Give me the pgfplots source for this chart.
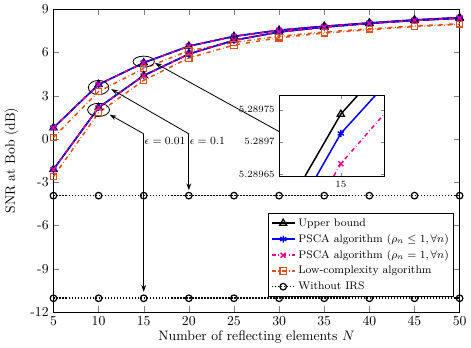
\documentclass[border=0pt]{standalone}
\usepackage{pgfplots}
\pgfplotsset{compat=1.18}
\usetikzlibrary{arrows.meta}

\definecolor{lcorange}{rgb}{0.85,0.325,0.098}

% eps = 0.1
\pgfplotstableread{
N   ub        psca1     psca2     lc
5   0.78      0.78      0.78      0.11
10  3.78      3.78      3.78      3.29
15  5.289743  5.289711  5.289664  4.89
20  6.44      6.44      6.44      6.12
25  7.12      7.12      7.12      6.70
30  7.55      7.55      7.55      7.13
35  7.82      7.82      7.82      7.42
40  8.05      8.05      8.05      7.64
45  8.26      8.26      8.26      7.84
50  8.42      8.42      8.42      8.00
}\epsa

% eps = 0.01
\pgfplotstableread{
N   ub      psca1   psca2   lc
5   -2.11   -2.11   -2.11   -2.60
10  2.18    2.18    2.18    1.82
15  4.40    4.40    4.40    4.07
20  5.89    5.89    5.89    5.62
25  6.85    6.85    6.85    6.52
30  7.42    7.42    7.42    7.02
35  7.76    7.76    7.76    7.35
40  8.02    8.02    8.02    7.58
45  8.22    8.22    8.22    7.80
50  8.38    8.38    8.38    7.96
}\epsb

\pgfplotstableread{
N   a       b
5   -3.93   -11.05
10  -3.93   -11.05
15  -3.93   -11.05
20  -3.93   -11.05
25  -3.93   -11.05
30  -3.93   -11.05
35  -3.93   -11.05
40  -3.93   -11.05
45  -3.93   -11.05
50  -3.93   -11.05
}\noirs

\begin{document}
\begin{tikzpicture}
\pgfplotsset{
  ubst/.style={black, solid, line width=1.1pt, mark=triangle, mark size=3pt, mark options={solid, line width=0.9pt}},
  p1st/.style={blue, solid, line width=1.1pt, mark=asterisk, mark size=2.6pt, mark options={solid, line width=1pt}},
  p2st/.style={magenta, dash dot, line width=1.1pt, mark=x, mark size=2.6pt, mark options={solid, line width=1pt}},
  lcst/.style={lcorange, dash dot, line width=1.1pt, mark=square, mark size=2.3pt, mark options={solid, line width=0.8pt}},
  nost/.style={black, densely dotted, line width=1.2pt, mark=o, mark size=2.4pt, mark options={solid, line width=0.9pt}},
}
\begin{axis}[
    scale only axis,
    width=296.8pt, height=221.2pt,
    xmin=5, xmax=50, ymin=-12, ymax=9,
    xtick={5,10,...,50},
    ytick={-12,-9,-6,-3,0,3,6,9},
    yticklabels={-12,-9,-6,-3,0,3,6,9},
    xlabel={Number of reflecting elements $N$},
    ylabel={SNR at Bob (dB)},
    xlabel style={yshift=3pt},
    ylabel style={yshift=2pt},
    tick align=inside,
    axis line style={line width=0.6pt},
    legend cell align=left,
    legend style={at={(0.986,0.326)}, anchor=north east, font=\footnotesize,
      draw=black, line width=0.5pt, inner sep=1.5pt, row sep=0.3pt},
    clip=false,
]
\addplot[ubst] table[x=N, y=ub] {\epsa};
\addplot[p1st] table[x=N, y=psca1] {\epsa};
\addplot[p2st] table[x=N, y=psca2] {\epsa};
\addplot[lcst] table[x=N, y=lc] {\epsa};
\addplot[nost] table[x=N, y=a] {\noirs};
\legend{Upper bound,
  {PSCA algorithm ($\rho_n \le 1, \forall n$)},
  {PSCA algorithm ($\rho_n = 1, \forall n$)},
  Low-complexity algorithm,
  Without IRS}

\addplot[ubst, forget plot] table[x=N, y=ub] {\epsb};
\addplot[p1st, forget plot] table[x=N, y=psca1] {\epsb};
\addplot[p2st, forget plot] table[x=N, y=psca2] {\epsb};
\addplot[lcst, forget plot] table[x=N, y=lc] {\epsb};
\addplot[nost, forget plot] table[x=N, y=b] {\noirs};

% annotations
\draw[line width=0.6pt] (axis cs:10,2.02) ellipse [x radius=8pt, y radius=4.8pt];
\draw[line width=0.6pt] (axis cs:10,3.57) ellipse [x radius=7.5pt, y radius=5.2pt];
\draw[line width=0.6pt] (axis cs:15,5.37) ellipse [x radius=7.8pt, y radius=4pt];

\draw[line width=0.6pt, -{Stealth[length=5pt, width=3.5pt]}] (axis cs:15,0.36) -- (axis cs:11.23,1.69);
\draw[line width=0.6pt, -{Stealth[length=5pt, width=3.5pt]}] (axis cs:15,0.36) -- (axis cs:15,-10.6);
\draw[line width=0.6pt, -{Stealth[length=5pt, width=3.5pt]}] (axis cs:20,0.36) -- (axis cs:11.4,3.46);
\draw[line width=0.6pt, -{Stealth[length=5pt, width=3.5pt]}] (axis cs:20,0.36) -- (axis cs:20,-3.55);
\draw[line width=0.6pt, -{Stealth[length=5pt, width=3.5pt]}] (axis cs:30.05,0.5) -- (axis cs:16.25,5.27);

\node[anchor=west, inner sep=0.5pt, font=\footnotesize] at (axis cs:15,-0.15) {$\epsilon = 0.01$};
\node[anchor=west, inner sep=0.5pt, font=\footnotesize] at (axis cs:20,-0.15) {$\epsilon = 0.1$};
\end{axis}

% inset
\begin{axis}[
    at={(165.2pt,99.4pt)}, anchor=south west,
    scale only axis,
    width=77pt, height=58.8pt,
    xmin=-541, xmax=389, ymin=-53, ymax=72,
    xtick={0}, xticklabels={15},
    ytick={-50,0,50},
    yticklabels={5.28965,5.2897,5.28975},
    ticklabel style={font=\scriptsize},
    tick align=inside,
    major tick length=2.5pt,
    axis line style={line width=0.6pt},
    axis background/.style={fill=white},
]
\addplot[ubst, mark indices={2}] coordinates {(-315,-53) (0,43) (148,72)};
\addplot[p1st, mark indices={2}] coordinates {(-214,-53) (0,13) (305,72)};
\addplot[p2st, mark indices={2}] coordinates {(-62,-53) (0,-34) (389,44.5)};
\end{axis}
\end{tikzpicture}
\end{document}
